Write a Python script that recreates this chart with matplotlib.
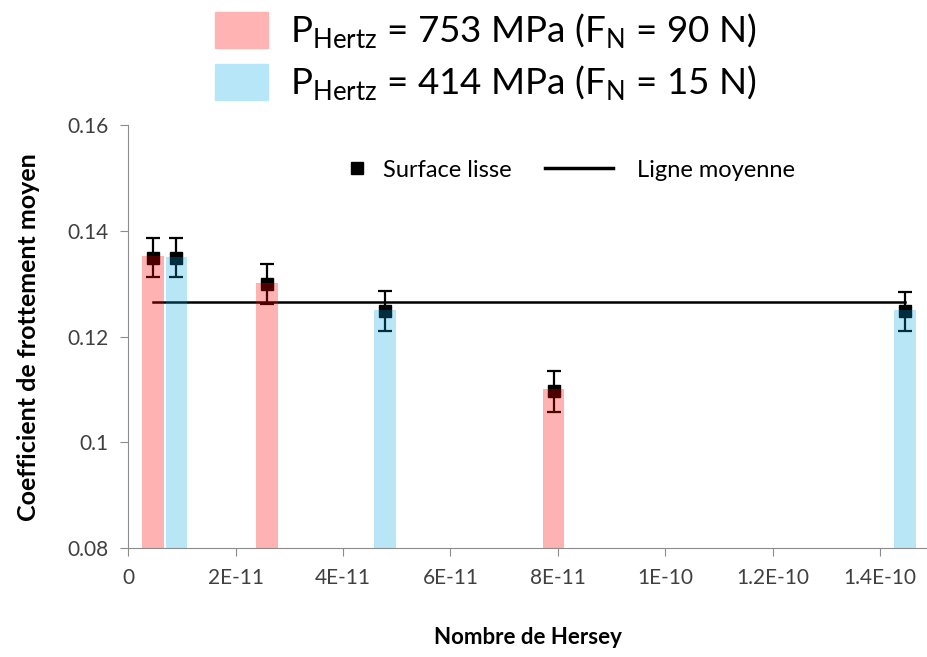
import matplotlib.pyplot as plt
import matplotlib.patches as mpatches
from matplotlib.lines import Line2D

plt.rcParams['font.family'] = ['Lato', 'DejaVu Sans']

# Données
x_753 = [0.46e-11, 2.59e-11, 7.92e-11]
y_753 = [0.1352, 0.1302, 0.1101]
x_414 = [0.90e-11, 4.78e-11, 14.46e-11]
y_414 = [0.1350, 0.1251, 0.1250]
x_pts = [0.46e-11, 0.90e-11, 2.59e-11, 4.78e-11, 7.92e-11, 14.46e-11]
y_pts = [0.1349, 0.1349, 0.1299, 0.1248, 0.1097, 0.1248]
err = [0.0037, 0.0037, 0.0038, 0.0038, 0.0039, 0.0037]
mean_x = [0.46e-11, 14.46e-11]
mean_y = [0.1266, 0.1266]

xticks = [0, 2e-11, 4e-11, 6e-11, 8e-11, 1e-10, 1.2e-10, 1.4e-10]
xtick_labels = ['0', '2E-11', '4E-11', '6E-11', '8E-11', '1E-10', '1.2E-10', '1.4E-10']
yticks = [0.08, 0.10, 0.12, 0.14, 0.16]
ytick_labels = ['0.08', '0.1', '0.12', '0.14', '0.16']

fig = plt.figure(figsize=(9.28, 6.57), dpi=100)
ax = fig.add_axes([0.138, 0.1655, 0.862, 0.644])

bar_w = 0.4e-11
ax.errorbar(x_pts, y_pts, yerr=err, fmt='s', color='black', markersize=8,
            capsize=5, elinewidth=1.6, capthick=1.6, zorder=2)
ax.plot(mean_x, mean_y, color='black', lw=1.8, zorder=2)
ax.bar(x_753, [v - 0.08 for v in y_753], bottom=0.08, width=bar_w,
       color='#FF0000', alpha=0.3, zorder=3)
ax.bar(x_414, [v - 0.08 for v in y_414], bottom=0.08, width=bar_w,
       color='#00A6E0', alpha=0.28, zorder=3)

ax.set_xlim(0, 1.489e-10)
ax.set_ylim(0.08, 0.16)
ax.set_xticks(xticks)
ax.set_xticklabels(xtick_labels)
ax.set_yticks(yticks)
ax.set_yticklabels(ytick_labels)
for s in ['top', 'right']:
    ax.spines[s].set_visible(False)
for s in ['left', 'bottom']:
    ax.spines[s].set_color('#8c8c8c')
ax.tick_params(colors='#8c8c8c', labelcolor='#404040', labelsize=15, length=6, pad=8)

ax.set_xlabel('Nombre de Hersey', fontsize=16, fontweight='bold', labelpad=28)
ax.set_ylabel('Coefficient de frottement moyen', fontsize=18, fontweight='bold', labelpad=20)

# Légendes internes (deux légendes pour régler chaque symbole)
h_pts = Line2D([], [], marker='s', color='black', linestyle='none', markersize=8)
h_line = Line2D([], [], color='black', lw=2.5)
leg1 = ax.legend([h_pts], ['Surface lisse'], frameon=False, loc='center left',
                 bbox_to_anchor=(0.272, 0.894), fontsize=17, borderpad=0,
                 borderaxespad=0, handlelength=1.0, handletextpad=0.6)
ax.add_artist(leg1)
ax.legend([h_line], ['Ligne moyenne'], frameon=False, loc='center left',
          bbox_to_anchor=(0.521, 0.894), fontsize=17, borderpad=0,
          borderaxespad=0, handlelength=2.9, handletextpad=1.0)

# Légende du haut
p1 = mpatches.Patch(color='#FFB3B3')
p2 = mpatches.Patch(color='#B7E6F8')
fig.legend([p1, p2],
           [r'P$_{\mathregular{Hertz}}$ = 753 MPa (F$_{\mathregular{N}}$ = 90 N)',
            r'P$_{\mathregular{Hertz}}$ = 414 MPa (F$_{\mathregular{N}}$ = 15 N)'],
           loc='upper left', bbox_to_anchor=(0.196, 1.033), frameon=False,
           fontsize=26.5, handlelength=1.45, handleheight=1.1, handletextpad=0.6,
           labelspacing=0.35)

fig.savefig('out.png', dpi=100)
